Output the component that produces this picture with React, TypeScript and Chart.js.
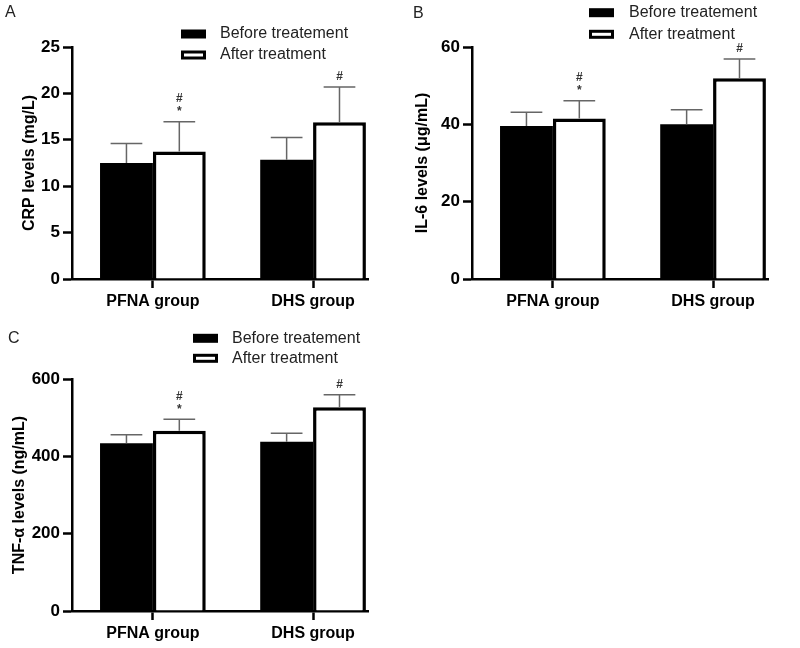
import React, { useEffect, useRef } from 'react';
import { Chart, registerables } from 'chart.js';

Chart.register(...registerables);

const FONT = '"Liberation Sans", Arial, Helvetica, sans-serif';

// ---- data ----
const groups = ['PFNA group', 'DHS group'];
const seriesNames = ['Before treatement', 'After treatment'];

const crpBefore = [12.5, 12.85];
const crpBeforeSD = [2.1, 2.4];
const crpAfter = [13.75, 16.88];
const crpAfterSD = [3.2, 3.8];

const il6Before = [39.6, 40.0];
const il6BeforeSD = [3.5, 3.8];
const il6After = [41.5, 51.9];
const il6AfterSD = [4.6, 5.0];

const tnfBefore = [434, 438];
const tnfBeforeSD = [22, 22];
const tnfAfter = [466, 527];
const tnfAfterSD = [30, 32];

// significance marks above the "after" bars (bottom to top)
const beforeMarks: string[][] = [[], []];
const afterMarks: string[][] = [['*', '#'], ['#']];

const crpTicks = { max: 25, step: 5 };
const il6Ticks = { max: 60, step: 20 };
const tnfTicks = { max: 600, step: 200 };

// ---- plugins ----
const errorBarPlugin = {
  id: 'errorBars',
  afterDatasetsDraw(chart: any) {
    const ctx = chart.ctx;
    const yScale = chart.scales.y;
    chart.data.datasets.forEach((ds: any, di: number) => {
      const meta = chart.getDatasetMeta(di);
      meta.data.forEach((bar: any, i: number) => {
        const v = ds.data[i].y;
        const e = ds.errors[i];
        const top = yScale.getPixelForValue(v + e);
        const half = bar.width * 0.3;
        ctx.save();
        ctx.strokeStyle = '#666';
        ctx.lineWidth = 1.5;
        ctx.beginPath();
        ctx.moveTo(bar.x, bar.y);
        ctx.lineTo(bar.x, top);
        ctx.moveTo(bar.x - half, top);
        ctx.lineTo(bar.x + half, top);
        ctx.stroke();
        const marks: string[] = (ds.marks && ds.marks[i]) || [];
        ctx.fillStyle = '#333';
        ctx.font = `bold 12px ${FONT}`;
        ctx.textAlign = 'center';
        ctx.textBaseline = 'middle';
        marks.forEach((m, k) => {
          ctx.fillText(m, bar.x, top - 10 - k * 13);
        });
        ctx.restore();
      });
    });
  },
};

const decorPlugin = {
  id: 'panelDecor',
  afterDraw(chart: any, _args: any, o: any) {
    const ctx = chart.ctx;
    ctx.save();
    // panel letter
    ctx.fillStyle = '#222';
    ctx.font = `16px ${FONT}`;
    ctx.textAlign = 'left';
    ctx.textBaseline = 'middle';
    ctx.fillText(o.label, o.labelX, o.labelY);
    // legend
    const bw = 25;
    const bh = 9;
    chart.data.datasets.forEach((ds: any, i: number) => {
      const cy = o.legendY + i * o.legendGap;
      ctx.fillStyle = ds.backgroundColor;
      ctx.fillRect(o.legendX, cy - bh / 2, bw, bh);
      if (ds.borderWidth) {
        ctx.lineWidth = 3;
        ctx.strokeStyle = ds.borderColor;
        ctx.strokeRect(o.legendX + 1.5, cy - bh / 2 + 1.5, bw - 3, bh - 3);
      }
      ctx.fillStyle = '#222';
      ctx.font = `16px ${FONT}`;
      ctx.fillText(ds.label, o.textX, cy);
    });
    ctx.restore();
  },
};

type PanelCfg = {
  left: number;
  top: number;
  width: number;
  height: number;
  padTop: number;
  xAxisH: number;
  titlePad: number;
  yTitle: string;
  before: number[];
  beforeSD: number[];
  after: number[];
  afterSD: number[];
  ticks: { max: number; step: number };
  decor: any;
};

function Panel({ cfg }: { cfg: PanelCfg }) {
  const ref = useRef<HTMLCanvasElement>(null);
  useEffect(() => {
    const axisFont = { family: FONT, size: 17, weight: 'bold' as const };
    const chart = new Chart(ref.current as HTMLCanvasElement, {
      type: 'bar',
      data: {
        datasets: [
          {
            label: seriesNames[0],
            data: groups.map((_, i) => ({ x: i, y: cfg.before[i] })),
            backgroundColor: '#000',
            borderColor: '#000',
            borderWidth: 0,
            categoryPercentage: 0.66,
            barPercentage: 1,
            errors: cfg.beforeSD,
            marks: beforeMarks,
          } as any,
          {
            label: seriesNames[1],
            data: groups.map((_, i) => ({ x: i, y: cfg.after[i] })),
            backgroundColor: '#fff',
            borderColor: '#000',
            borderWidth: 3.5,
            categoryPercentage: 0.66,
            barPercentage: 1,
            errors: cfg.afterSD,
            marks: afterMarks,
          } as any,
        ],
      },
      options: {
        responsive: false,
        animation: false,
        layout: { padding: { top: cfg.padTop, right: 32, bottom: 0, left: 0 } },
        plugins: {
          legend: { display: false },
          tooltip: { enabled: false },
          panelDecor: cfg.decor,
        } as any,
        scales: {
          x: {
            type: 'linear',
            min: -0.505,
            max: 1.343,
            offset: false,
            afterBuildTicks: (s: any) => {
              s.ticks = groups.map((_, i) => ({ value: i }));
            },
            afterFit: (s: any) => {
              s.height = cfg.xAxisH;
            },
            ticks: {
              callback: (v: any) => groups[v as number],
              font: { family: FONT, size: 16, weight: 'bold' },
              color: '#000',
              padding: 4,
              maxRotation: 0,
              autoSkip: false,
            },
            grid: {
              offset: false,
              drawOnChartArea: false,
              drawTicks: true,
              tickLength: 9,
              tickWidth: 2.5,
              tickColor: '#000',
            },
            border: { color: '#000', width: 2.5 },
          },
          y: {
            min: 0,
            max: cfg.ticks.max,
            afterFit: (s: any) => {
              s.width = 72;
            },
            ticks: {
              stepSize: cfg.ticks.step,
              font: axisFont,
              color: '#000',
              padding: 3,
            },
            grid: {
              drawOnChartArea: false,
              drawTicks: true,
              tickLength: 9,
              tickWidth: 2.5,
              tickColor: '#000',
            },
            border: { color: '#000', width: 2.5 },
            title: {
              display: true,
              text: cfg.yTitle,
              font: { family: FONT, size: 16, weight: 'bold' },
              color: '#000',
              padding: { top: cfg.titlePad, bottom: 0 },
            },
          },
        } as any,
      },
      plugins: [errorBarPlugin, decorPlugin],
    });
    return () => chart.destroy();
  }, []);
  return (
    <canvas
      ref={ref}
      width={cfg.width}
      height={cfg.height}
      style={{ position: 'absolute', left: cfg.left, top: cfg.top, width: cfg.width, height: cfg.height }}
    />
  );
}

const panels: PanelCfg[] = [
  {
    left: 0, top: 0, width: 400, height: 325, padTop: 47, xAxisH: 46, titlePad: 19.5,
    yTitle: 'CRP levels (mg/L)',
    before: crpBefore, beforeSD: crpBeforeSD, after: crpAfter, afterSD: crpAfterSD,
    ticks: crpTicks,
    decor: { label: 'A', labelX: 5, labelY: 13, legendX: 181, legendY: 34, legendGap: 21, textX: 220 },
  },
  {
    left: 400, top: 0, width: 400, height: 325, padTop: 47, xAxisH: 46, titlePad: 13,
    yTitle: 'IL-6 levels (μg/mL)',
    before: il6Before, beforeSD: il6BeforeSD, after: il6After, afterSD: il6AfterSD,
    ticks: il6Ticks,
    decor: { label: 'B', labelX: 13, labelY: 14, legendX: 189, legendY: 12.7, legendGap: 21.6, textX: 229 },
  },
  {
    left: 0, top: 325, width: 400, height: 323, padTop: 54, xAxisH: 37, titlePad: 10,
    yTitle: 'TNF-α levels (ng/mL)',
    before: tnfBefore, beforeSD: tnfBeforeSD, after: tnfAfter, afterSD: tnfAfterSD,
    ticks: tnfTicks,
    decor: { label: 'C', labelX: 8, labelY: 14, legendX: 193, legendY: 13.3, legendGap: 20, textX: 232 },
  },
];

export default function App() {
  return (
    <div style={{ position: 'absolute', left: 0, top: 0, width: 800, height: 648, background: '#fff' }}>
      {panels.map((p, i) => (
        <Panel key={i} cfg={p} />
      ))}
    </div>
  );
}
